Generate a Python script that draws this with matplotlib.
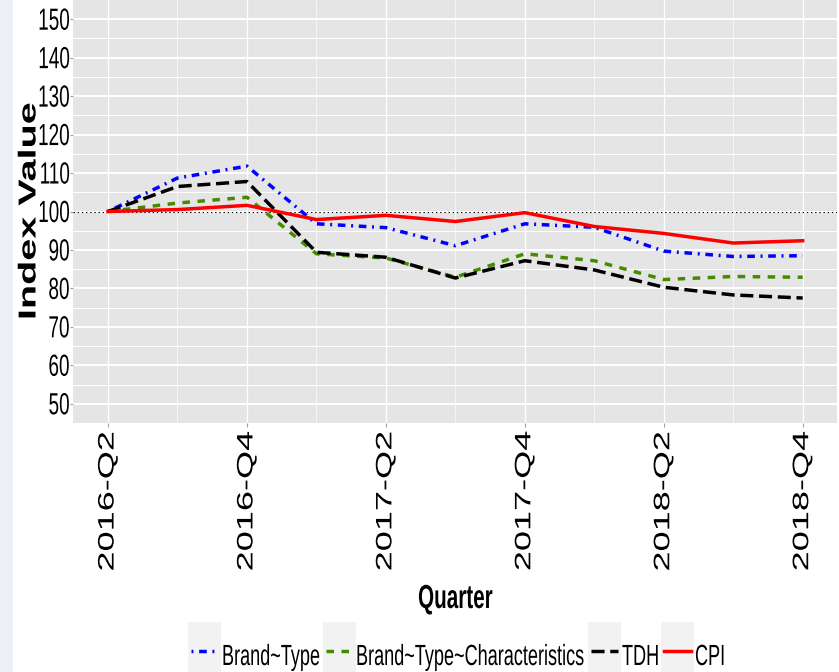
import matplotlib
matplotlib.use("Agg")
import matplotlib.pyplot as plt
from matplotlib.patheffects import AbstractPathEffect
from matplotlib.transforms import Affine2D
from matplotlib.lines import Line2D
from matplotlib.patches import Rectangle

# ---------------- data ----------------
quarters = ['2016-Q2', '2016-Q3', '2016-Q4', '2017-Q1', '2017-Q2', '2017-Q3',
            '2017-Q4', '2018-Q1', '2018-Q2', '2018-Q3', '2018-Q4']
brand_type = [100, 108.7, 111.8, 96.8, 95.8, 91.1, 96.8, 95.9, 89.7, 88.3, 88.5]
brand_type_char = [100, 102.2, 103.7, 89.0, 87.9, 82.9, 89.0, 87.2, 82.3, 83.1, 82.9]
tdh = [100, 106.5, 107.8, 89.4, 88.1, 82.7, 87.2, 84.8, 80.3, 78.3, 77.5]
cpi = [100, 100.5, 101.6, 97.9, 99.0, 97.4, 99.7, 96.1, 94.3, 91.8, 92.4]
series_names = ['Brand~Type', 'Brand~Type~Characteristics', 'TDH', 'CPI']
y_ticks = [50, 60, 70, 80, 90, 100, 110, 120, 130, 140, 150]
y_minor = [55, 65, 75, 85, 95, 105, 115, 125, 135, 145]
x_tick_labels = quarters[::2]
baseline_value = 100

# ---------------- style ----------------
W, H, DPI = 839, 672, 100
SQ = 0.62  # reference glyphs are condensed horizontally by this factor

plt.rcParams['lines.scale_dashes'] = False
plt.rcParams['font.family'] = ['Liberation Sans', 'DejaVu Sans']

colors = ['#0000ff', '#458b00', '#000000', '#ff0000']
dashes = [(0, (1.4, 4.1, 5.5, 4.1)), (0, (5.4, 5.4)), (0, (9.4, 4.1)), '-']
LW = 2.5


def _anchor(text):
    return text.get_transform().transform(text.get_unitless_position())


class StretchY(AbstractPathEffect):
    """Text is set at a reduced size and stretched vertically about its anchor,
    which reproduces the reference's horizontally condensed lettering."""
    def __init__(self, text, sy):
        super().__init__()
        self._text = text
        self._sy = sy

    def draw_path(self, renderer, gc, tpath, affine, rgbFace=None):
        y0 = _anchor(self._text)[1]
        t = affine + Affine2D().translate(0, -y0).scale(1, self._sy).translate(0, y0)
        renderer.draw_path(gc, tpath, t, rgbFace)


def condense(t):
    t.set_path_effects([StretchY(t, 1 / SQ)])


def fx(px):
    return px / W


def fy(py):
    return 1 - py / H


fig = plt.figure(figsize=(W / DPI, H / DPI), dpi=DPI, facecolor='white')
fig.patches.append(Rectangle((0, 0), fx(13), 1, transform=fig.transFigure,
                             facecolor='#eff0f5', edgecolor='none', zorder=0))

L, R, T, B = 73.3, 837.4, 0.0, 423.0
ax = fig.add_axes([fx(L), fy(B), fx(R) - fx(L), fy(T) - fy(B)])
ax.set_facecolor('#e5e5e5')
for s in ax.spines.values():
    s.set_visible(False)

x = list(range(len(quarters)))
ax.set_xlim(-0.5, len(quarters) - 0.5)
ax.set_ylim(45, 155)

ax.set_xticks(x[::2])
ax.set_xticks(x[1::2], minor=True)
ax.set_xticklabels(x_tick_labels, rotation=90)
ax.set_yticks(y_ticks)
ax.set_yticks(y_minor, minor=True)
ax.set_axisbelow(True)
ax.xaxis.grid(True, which='major', color='white', lw=0.9)
ax.xaxis.grid(True, which='minor', color='white', lw=0.45)
ax.yaxis.grid(True, which='major', color='white', lw=1.4)
ax.yaxis.grid(True, which='minor', color='white', lw=0.7)
ax.tick_params(which='minor', length=0)
ax.tick_params(axis='x', which='major', length=3, width=0.8, color='#a0a0a0',
               pad=2.5, labelsize=26 * SQ, labelcolor='black')
ax.tick_params(axis='y', which='major', length=2.3, width=0.8, color='#a0a0a0',
               pad=0.4, labelsize=22 * SQ, labelcolor='black')

ax.axhline(baseline_value, color='black', lw=0.8, ls=(0, (1, 2)), zorder=1.5)

data = [brand_type, brand_type_char, tdh, cpi]
for vals, c, d, name in zip(data, colors, dashes, series_names):
    ax.plot(x, vals, color=c, lw=LW, ls=d, label=name, zorder=2)

ax.set_xlabel('Quarter', fontsize=24 * SQ, fontweight='bold', va='baseline')
ax.xaxis.set_label_coords(0.5, (B - 608) / (B - T))
ax.set_ylabel('Index Value', fontsize=28.5 * SQ, fontweight='bold', va='baseline')
ax.yaxis.set_label_coords((35.5 - L) / (R - L), 0.5)

for lbl in ax.get_xticklabels() + ax.get_yticklabels():
    condense(lbl)
condense(ax.xaxis.label)
condense(ax.yaxis.label)

# ---------------- legend (bottom, horizontal) ----------------
key_x = [188, 323, 588, 661]
text_x = [222, 356, 622, 695]
key_w = 33
key_top, key_bot = 622, 680
key_y = 650.7
text_base = 665
for kx, tx, c, d, name in zip(key_x, text_x, colors, dashes, series_names):
    fig.patches.append(Rectangle((fx(kx), fy(key_bot)), fx(key_w), fy(key_top) - fy(key_bot),
                                 transform=fig.transFigure, facecolor='#f2f2f2',
                                 edgecolor='none', zorder=1))
    fig.lines.append(Line2D([fx(kx + 2.5), fx(kx + 29.5)], [fy(key_y), fy(key_y)],
                            transform=fig.transFigure, color=c, lw=LW, ls=d, zorder=2))
    t = fig.text(fx(tx), fy(text_base), name, fontsize=21 * SQ, ha='left', va='baseline',
                 color='black')
    condense(t)

fig.savefig('out.png', dpi=DPI, facecolor='white')
